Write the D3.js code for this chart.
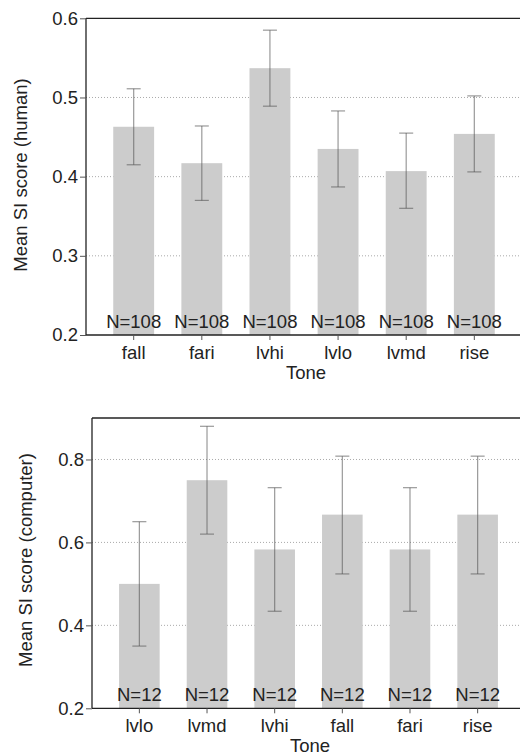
<!DOCTYPE html>
<html><head><meta charset="utf-8">
<script src="https://cdn.jsdelivr.net/npm/d3@7"></script>
<style>body{margin:0;background:#fff}svg{display:block}text{font-family:"Liberation Sans",Arial,sans-serif;fill:#222}</style>
</head><body>
<script>
const humanTones = ["fall","fari","lvhi","lvlo","lvmd","rise"];
const humanMeans = [0.463,0.417,0.537,0.435,0.407,0.454];
const humanLower = [0.415,0.370,0.489,0.387,0.360,0.406];
const humanUpper = [0.511,0.464,0.585,0.483,0.455,0.502];
const humanN = [108,108,108,108,108,108];
const humanTicks = [0.2,0.3,0.4,0.5,0.6];

const compTones = ["lvlo","lvmd","lvhi","fall","fari","rise"];
const compMeans = [0.500,0.750,0.583,0.667,0.583,0.667];
const compLower = [0.350,0.620,0.434,0.524,0.434,0.524];
const compUpper = [0.650,0.880,0.732,0.808,0.732,0.808];
const compN = [12,12,12,12,12,12];
const compTicks = [0.2,0.4,0.6,0.8];

const W = 520, H = 756, FS = 18.5;
const FONT = '"Liberation Sans",Arial,sans-serif';
const svg = d3.select("body").append("svg").attr("width", W).attr("height", H);

function panel(o) {
  const g = svg.append("g");
  const x = d3.scaleBand().domain(o.tones).range([o.left, o.right]).paddingInner(0.4).paddingOuter(0.4);
  const y = d3.scaleLinear().domain(o.domain).range([o.bottom, o.top]);
  // gridlines
  g.append("g").selectAll("line").data(o.ticks.filter(t => t > o.domain[0] && t < o.domain[1]))
    .join("line").attr("x1", o.left).attr("x2", W).attr("y1", d => y(d)).attr("y2", d => y(d))
    .attr("stroke", "#aaa").attr("stroke-width", 1).attr("stroke-dasharray", "1,2");
  // bars
  g.append("g").selectAll("rect").data(o.tones).join("rect")
    .attr("x", d => x(d)).attr("width", x.bandwidth())
    .attr("y", (d, i) => y(o.means[i])).attr("height", (d, i) => y(o.domain[0]) - y(o.means[i]))
    .attr("fill", "#cccccc");
  // error bars
  const eb = g.append("g").attr("stroke", "#555").attr("stroke-opacity", 0.6).attr("stroke-width", 1.2);
  o.tones.forEach((d, i) => {
    const cx = x(d) + x.bandwidth() / 2;
    eb.append("line").attr("x1", cx).attr("x2", cx).attr("y1", y(o.lower[i])).attr("y2", y(o.upper[i]));
    eb.append("line").attr("x1", cx - 7).attr("x2", cx + 7).attr("y1", y(o.upper[i])).attr("y2", y(o.upper[i]));
    eb.append("line").attr("x1", cx - 7).attr("x2", cx + 7).attr("y1", y(o.lower[i])).attr("y2", y(o.lower[i]));
  });
  // N labels
  g.append("g").selectAll("text").data(o.tones).join("text")
    .attr("x", d => x(d) + x.bandwidth() / 2).attr("y", o.bottom - 7)
    .attr("text-anchor", "middle").attr("font-size", FS)
    .text((d, i) => "N=" + o.n[i]);
  // axes
  const ya = g.append("g").attr("transform", `translate(${o.left},0)`)
    .call(d3.axisLeft(y).tickValues(o.ticks).tickFormat(d3.format(".1f")).tickSize(6).tickPadding(2));
  ya.select(".domain").attr("stroke", "#222").attr("stroke-width", 1.3).attr("d", `M0,${o.top}V${o.bottom}`);
  ya.selectAll(".tick line").attr("stroke", "#555");
  ya.selectAll(".tick text").attr("font-size", FS).attr("fill", "#222").attr("font-family", FONT);
  const xa = g.append("g").attr("transform", `translate(0,${o.bottom})`)
    .call(d3.axisBottom(x).tickSize(5).tickPadding(6));
  xa.select(".domain").attr("stroke", "#222").attr("stroke-width", 1.3).attr("d", `M${o.left},0H${W}`);
  xa.selectAll(".tick line").attr("stroke", "#555");
  xa.selectAll(".tick text").attr("font-size", FS).attr("fill", "#222").attr("font-family", FONT);
  // top border
  g.append("line").attr("x1", o.left).attr("x2", W).attr("y1", o.top).attr("y2", o.top)
    .attr("stroke", "#222").attr("stroke-width", 1.3);
  // titles
  g.append("text").attr("x", o.toneX).attr("y", o.bottom + 44)
    .attr("text-anchor", "middle").attr("font-size", FS).text("Tone");
  g.append("text").attr("transform", `translate(${o.ylabX},${o.ylabY}) rotate(-90)`)
    .attr("text-anchor", "middle").attr("font-size", FS).text(o.ylabel);
}

panel({tones: humanTones, means: humanMeans, lower: humanLower, upper: humanUpper, n: humanN, ticks: humanTicks,
  domain: [0.2, 0.6], left: 86, right: 522, top: 18.3, bottom: 335, ylabX: 27, ylabY: 175, toneX: 306,
  ylabel: "Mean SI score (human)"});
panel({tones: compTones, means: compMeans, lower: compLower, upper: compUpper, n: compN, ticks: compTicks,
  domain: [0.2, 0.9], left: 92, right: 525, top: 418, bottom: 708.3, ylabX: 31.5, ylabY: 560, toneX: 310,
  ylabel: "Mean SI score (computer)"});
</script>
</body></html>
